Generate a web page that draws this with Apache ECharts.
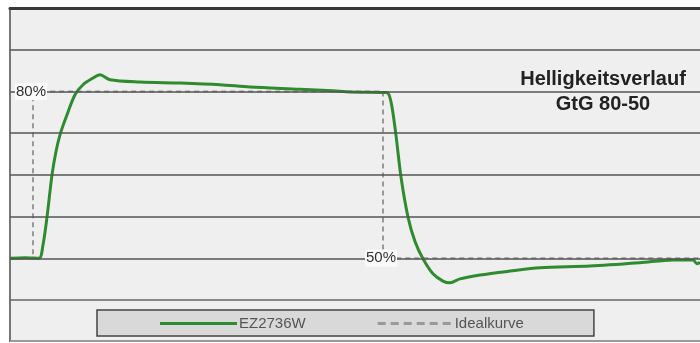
<!DOCTYPE html>
<html><head><meta charset="utf-8">
<script src="https://cdn.jsdelivr.net/npm/echarts@6/dist/echarts.min.js"></script>
<style>
html,body{margin:0;padding:0;background:#fff;width:700px;height:343px;overflow:hidden}
#bg{position:absolute;left:9px;top:7px;width:691px;height:335px;background:#efefef;border-left:2px solid #777;border-bottom:2px solid #999;box-sizing:border-box}
#chart{position:absolute;left:0;top:0;width:700px;height:343px}
</style></head>
<body><div id="bg"></div><div id="chart"></div>
<script>
// time (arbitrary units) and brightness (%) of the measured curve
const measuredX = [0,15,29,33,37,42,46,50,57,65,73,83,90,100,130,170,210,240,290,323,340,376,379,382,386,391,398,405,413,423,433,440,450,470,500,530,580,630,663,683,687,690];
const measuredY = [50,50.1,50,52.4,57.4,65,69.2,72.2,75.8,79.4,81.2,82.4,83,82.1,81.7,81.5,81.2,80.8,80.4,80.1,79.9,79.8,79.4,77.2,72.1,64.6,57.4,53.0,49.9,47.2,45.9,45.6,46.3,47,47.7,48.3,48.6,49.2,49.7,49.7,49,49.3];
// ideal step curve
const idealX = [0,23,23,373,373,690];
const idealY = [50,50,80,80,50,50];
const gridValues = [50,57.5,65,72.5,80,87.5];
const levelLabels = [{x:23,y:80,text:'80%'},{x:373,y:50,text:'50%'}];
const seriesNames = ['EZ2736W','Idealkurve'];
const titleLines = ['Helligkeitsverlauf','GtG 80-50'];

const solidIcon = 'path://M0,0h77v3h-77z';
let dashed = '';
for (let i = 0; i < 6; i++) dashed += 'M' + (i*13) + ',0h8v3h-8z';
const dashedIcon = 'path://' + dashed;

const chart = echarts.init(document.getElementById('chart'));
const zip = (a,b)=>a.map((v,i)=>[v,b[i]]);
chart.setOption({
  animation:false,
  backgroundColor:'transparent',
  title:{text:titleLines.join('\n'),left:598,top:62,textAlign:'center',
    textStyle:{fontFamily:'Liberation Sans, Arial, sans-serif',fontSize:20,fontWeight:'bold',color:'#222',lineHeight:25}},
  legend:{data:[{name:seriesNames[0],icon:solidIcon},{name:seriesNames[1],icon:dashedIcon}],
    left:97,top:310,orient:'horizontal',
    backgroundColor:'#d9d9d9',borderColor:'#444',borderWidth:1.5,
    padding:[6,70,5,63],itemGap:72,itemWidth:77,itemHeight:3,
    textStyle:{fontFamily:'Liberation Sans, Arial, sans-serif',fontSize:15,color:'#555',padding:[0,0,0,-3]}},
  grid:{left:10,right:0,top:8,bottom:43},
  xAxis:[
    {type:'value',min:0,max:690,position:'top',axisLine:{show:true,lineStyle:{color:'#3a3a3a',width:3}},axisTick:{show:false},axisLabel:{show:false},splitLine:{show:false}},
    {type:'value',min:0,max:690,position:'bottom',axisLine:{show:true,lineStyle:{color:'#666',width:1.5}},axisTick:{show:false},axisLabel:{show:false},splitLine:{show:false}}
  ],
  yAxis:{type:'value',min:42.5,max:95,axisLine:{show:false},axisTick:{show:false},axisLabel:{show:false},splitLine:{show:false}},
  series:[
    {name:'grid',type:'line',data:[],silent:true,z:1,
      markLine:{silent:true,symbol:'none',label:{show:false},lineStyle:{color:'#555',width:1.5,type:'solid'},
        data:gridValues.map(v=>({yAxis:v}))}},
    {name:seriesNames[1],type:'line',data:zip(idealX,idealY),z:3,symbol:'none',silent:true,
      lineStyle:{color:'#999',width:2,type:[5,4]},itemStyle:{color:'#999'},
      markPoint:{symbol:'rect',symbolSize:0,silent:true,
        label:{show:true,position:'inside',offset:[-2,0],formatter:p=>p.name,
          fontFamily:'Liberation Sans, Arial, sans-serif',fontSize:15,color:'#333',backgroundColor:'#fafafa',padding:[1,1]},
        data:levelLabels.map(l=>({name:l.text,coord:[l.x,l.y]}))}},
    {name:seriesNames[0],type:'line',data:zip(measuredX,measuredY),z:4,symbol:'none',smooth:0.3,silent:true,
      lineStyle:{color:'#2e8b2e',width:3},itemStyle:{color:'#2e8b2e'}}
  ]
});
</script></body></html>
